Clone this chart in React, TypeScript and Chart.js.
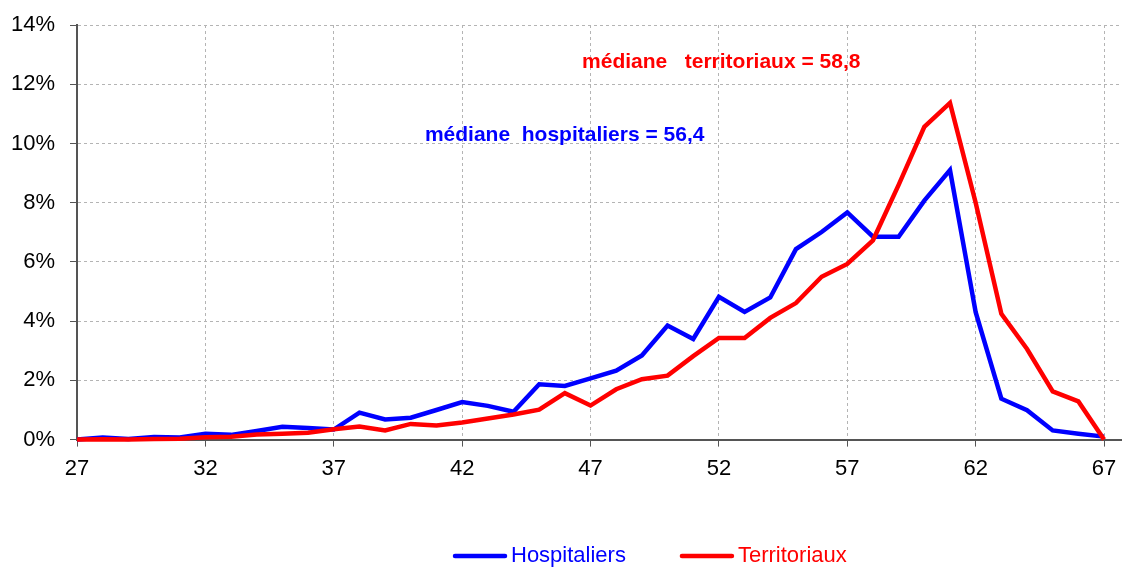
import React, { useEffect, useRef } from "react";
import { Chart, registerables } from "chart.js";

Chart.register(...registerables);

const ages = [27, 28, 29, 30, 31, 32, 33, 34, 35, 36, 37, 38, 39, 40, 41, 42, 43, 44, 45, 46, 47, 48, 49, 50, 51, 52, 53, 54, 55, 56, 57, 58, 59, 60, 61, 62, 63, 64, 65, 66, 67];
const hospitaliers = [0, 0.07, 0.02, 0.09, 0.07, 0.2, 0.16, 0.29, 0.43, 0.39, 0.34, 0.91, 0.68, 0.74, 1.0, 1.27, 1.14, 0.94, 1.87, 1.81, 2.07, 2.33, 2.84, 3.85, 3.4, 4.82, 4.31, 4.8, 6.43, 7.01, 7.67, 6.85, 6.85, 8.07, 9.1, 4.3, 1.38, 0.99, 0.31, 0.2, 0.1];
const territoriaux = [0, 0.01, 0, 0.02, 0.03, 0.08, 0.1, 0.17, 0.2, 0.23, 0.35, 0.44, 0.31, 0.53, 0.48, 0.58, 0.71, 0.85, 1.01, 1.57, 1.15, 1.7, 2.04, 2.16, 2.82, 3.43, 3.43, 4.11, 4.61, 5.5, 5.93, 6.73, 8.6, 10.56, 11.37, 8.0, 4.25, 3.06, 1.63, 1.29, 0];
const xTicks = [27, 32, 37, 42, 47, 52, 57, 62, 67];
const seriesLabels = ["Hospitaliers", "Territoriaux"];
const annotations = [
  { text: "médiane   territoriaux = 58,8", x: 46.67, y: 12.55, color: "#ff0000" },
  { text: "médiane  hospitaliers = 56,4", x: 40.55, y: 10.08, color: "#0000ff" },
];

const FONT = "'Liberation Sans', Arial, sans-serif";

const overlayPlugin = {
  id: "overlay",
  afterDraw(chart: any) {
    const ctx = chart.ctx;
    const xs = chart.scales.x;
    const ys = chart.scales.y;
    ctx.save();
    ctx.font = `bold 21px ${FONT}`;
    ctx.textBaseline = "alphabetic";
    ctx.textAlign = "left";
    for (const a of annotations) {
      ctx.fillStyle = a.color;
      ctx.fillText(a.text, xs.getPixelForValue(a.x), ys.getPixelForValue(a.y));
    }
    // legend
    const ly = 556;
    let lx = 455;
    ctx.font = `22px ${FONT}`;
    ctx.textBaseline = "middle";
    chart.data.datasets.slice().sort((a: any, b: any) => a.legendIndex - b.legendIndex).forEach((ds: any) => {
      ctx.strokeStyle = ds.borderColor;
      ctx.lineWidth = 4.5;
      ctx.lineCap = "round";
      ctx.beginPath();
      ctx.moveTo(lx, ly);
      ctx.lineTo(lx + 50, ly);
      ctx.stroke();
      ctx.fillStyle = ds.borderColor;
      ctx.fillText(ds.label, lx + 56, ly);
      lx += 56 + ctx.measureText(ds.label).width + 56;
    });
    ctx.restore();
  },
};

const zeroPad = (scale: any) => {
  scale.paddingTop = 0;
  scale.paddingBottom = 0;
  scale.paddingLeft = 0;
  scale.paddingRight = 0;
};

export default function App() {
  const ref = useRef<HTMLCanvasElement>(null);
  useEffect(() => {
    if (!ref.current) return;
    const chart = new Chart(ref.current, {
      type: "line",
      data: {
        datasets: [
          {
            label: seriesLabels[0],
            data: ages.map((a, i) => ({ x: a, y: hospitaliers[i] })),
            borderColor: "#0000ff",
            backgroundColor: "#0000ff",
            borderWidth: 4.5,
            pointRadius: 0,
            tension: 0,
            order: 1,
            clip: false,
            legendIndex: 0,
          } as any,
          {
            label: seriesLabels[1],
            data: ages.map((a, i) => ({ x: a, y: territoriaux[i] })),
            borderColor: "#ff0000",
            backgroundColor: "#ff0000",
            borderWidth: 4.5,
            pointRadius: 0,
            tension: 0,
            order: 0,
            clip: false,
            legendIndex: 1,
          } as any,
        ],
      },
      options: {
        animation: false,
        responsive: false,
        maintainAspectRatio: false,
        layout: { padding: { left: 10, right: 2, top: 25, bottom: 77 } },
        plugins: { legend: { display: false }, tooltip: { enabled: false } },
        scales: {
          x: {
            type: "linear",
            min: 27,
            max: 67.66,
            afterBuildTicks: (scale: any) => {
              scale.ticks = xTicks.map((v) => ({ value: v }));
            },
            afterFit: zeroPad,
            ticks: {
              font: { family: FONT, size: 22 },
              color: "#000",
              padding: 9,
              maxRotation: 0,
              callback: (v: any) => String(v),
            },
            grid: {
              color: "#b4b4b4",
              tickColor: "#555",
              tickBorderDash: [],
              tickLength: 7,
              lineWidth: 1,
            } as any,
            border: { color: "#555", width: 2, dash: [3, 3] },
          },
          y: {
            min: 0,
            max: 14,
            afterFit: (scale: any) => {
              scale.width = 67;
              zeroPad(scale);
            },
            ticks: {
              stepSize: 2,
              font: { family: FONT, size: 22 },
              color: "#000",
              padding: 15,
              callback: (v: any) => `${v}%`,
            },
            grid: {
              color: "#b4b4b4",
              tickColor: "#555",
              tickBorderDash: [],
              tickLength: 7,
              lineWidth: 1,
            } as any,
            border: { color: "#555", width: 2, dash: [3, 3] },
          },
        },
      },
      plugins: [overlayPlugin],
    });
    return () => chart.destroy();
  }, []);
  return (
    <div style={{ position: "fixed", left: 0, top: 0, width: 1123, height: 568, background: "#fff" }}>
      <canvas ref={ref} width={1123} height={568} style={{ width: 1123, height: 568, display: "block" }} />
    </div>
  );
}
